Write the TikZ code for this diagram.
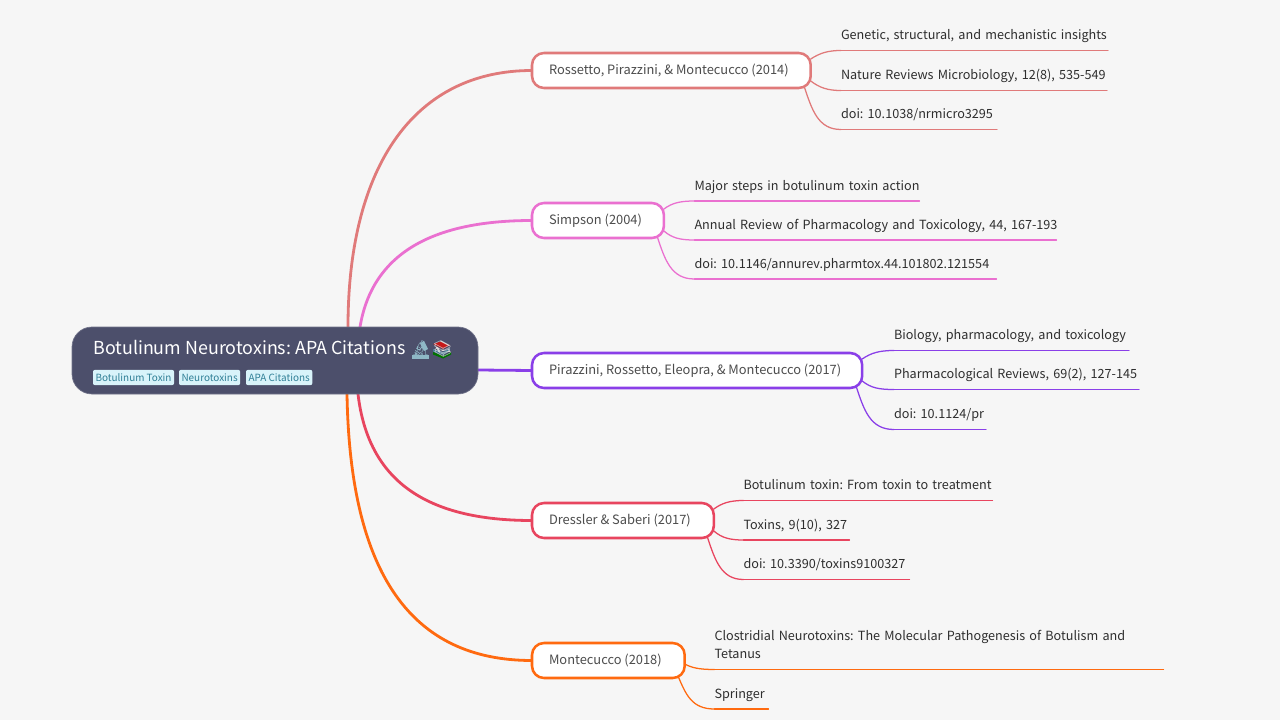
\documentclass[tikz,border=0pt]{standalone}
\usepackage{fontspec}
\setmainfont{Noto Sans CJK SC}
\newfontfamily\emojifont{Noto Emoji}
\usetikzlibrary{backgrounds}
\definecolor{cbg}{HTML}{F6F6F6}
\definecolor{croot}{HTML}{4C4F6B}
\definecolor{ctag}{HTML}{D8F3FA}
\definecolor{ctagt}{HTML}{2F7F96}
\definecolor{ca}{HTML}{E07A7A}
\definecolor{cb}{HTML}{EA70D0}
\definecolor{cc}{HTML}{8A3FE8}
\definecolor{cd}{HTML}{E8455F}
\definecolor{ce}{HTML}{FF6A10}
\definecolor{cscope}{HTML}{8FB8C6}
\newcommand{\fs}[2]{\fontsize{#1}{#2}\selectfont\frenchspacing}
\tikzset{
  x=0.75pt,y=-0.75pt,
  rootbox/.style={fill=croot,draw=croot!80!white,line width=0.5pt,outer sep=0pt,rounded corners=15pt,anchor=north west,minimum width=304.5pt,minimum height=50.25pt,inner sep=0pt},
  tagbox/.style={fill=ctag,text=ctagt,outer sep=0pt,rounded corners=1.5pt,anchor=west,inner xsep=1.9pt,inner ysep=0pt,minimum height=11.5pt,font=\fs{7.45}{9}},
  branch/.style={fill=white,draw=#1,line width=1.9pt,outer sep=0pt,rounded corners=9pt,anchor=west,inner xsep=12.75pt,inner ysep=0pt,minimum height=26.25pt,text=black!70,font=\fs{9.65}{12}},
  leaf/.style={anchor=south west,inner sep=0pt,outer sep=0pt,text=black!82,font=\fs{9.48}{14},align=left},
  mainline/.style={line width=2.1pt,line cap=round},
  subline/.style={line width=0.95pt,line cap=round},
}
\newcommand{\lnx}[1]{\makebox[0pt][l]{\strut #1}}
\newcommand{\leafn}[6]{% name, x, y, width(px), colour, text
  \node[leaf,text width=#4*0.75pt] (#1) at (#2,#3) {#6\par\vspace{3.8pt}};
  \draw[subline,#5] (#1.south west) -- (#1.south east);
}
\begin{document}
\begin{tikzpicture}
\useasboundingbox (0,0) rectangle (1280,720);
% root
\node[rootbox] (root) at (72,327) {};
\node[anchor=west,inner sep=0pt,text=white,font=\fs{13.4}{16}] (title) at (93,347.5) {Botulinum Neurotoxins: APA Citations};
% emoji colour under-painting
\fill[red!75!black!90] (433,344) -- (441,341.5) -- (450,345) -- (443,349) -- cycle;
\fill[cyan!55!black] (433,349) -- (443,352) -- (450,348) -- (450,351) -- (443,355) -- (433,351.5) -- cycle;
\fill[green!45!black] (433,352) -- (443,356) -- (451,352) -- (451,354.5) -- (443,358.5) -- (433,354.5) -- cycle;
\fill[cscope] (420,343.5) -- (424,341) -- (428,349) -- (424,351) -- cycle;
\fill[cscope] (412,355) rectangle (429,359);
\node[anchor=west,inner sep=0pt,text=cscope,font=\emojifont\fs{12}{14}] (emoa) at (410,349.5) {🔬};
\node[anchor=west,inner sep=0pt,text=white!85!black,font=\emojifont\fs{12}{14}] (emob) at (432,349.5) {📚};
\node[tagbox] (t1) at (93,377.5) {Botulinum Toxin};
\node[tagbox] (t2) at (179,377.5) {Neurotoxins};
\node[tagbox] (t3) at (246,377.5) {APA Citations};
% branches
\node[branch=ca] (b1) at (532,70.5) {Rossetto, Pirazzini, \& Montecucco (2014)\kern3.75pt};
\node[branch=cb] (b2) at (532,220.5) {Simpson (2004)\kern3.75pt};
\node[branch=cc] (b3) at (532,370.5) {Pirazzini, Rossetto, Eleopra, \& Montecucco (2017)\kern3pt};
\node[branch=cd] (b4) at (532,520.5) {Dressler \& Saberi (2017)\kern4.5pt};
\node[branch=ce] (b5) at (532,660.5) {Montecucco (2018)\kern4.5pt};
% leaves
\leafn{a1}{841}{50.5}{267}{ca}{\lnx{Genetic, structural, and mechanistic insights}}
\leafn{a2}{841}{90.5}{266}{ca}{\lnx{Nature Reviews Microbiology, 12(8), 535-549}}
\leafn{a3}{841}{129.5}{156}{ca}{\lnx{doi: 10.1038/nrmicro3295}}
\leafn{c1}{694.5}{201}{225}{cb}{\lnx{Major steps in botulinum toxin action}}
\leafn{c2}{694.5}{240}{362}{cb}{\lnx{Annual Review of Pharmacology and Toxicology, 44, 167-193}}
\leafn{c3}{694.5}{279}{302}{cb}{\lnx{doi: 10.1146/annurev.pharmtox.44.101802.121554}}
\leafn{d1}{894}{350.5}{235}{cc}{\lnx{Biology, pharmacology, and toxicology}}
\leafn{d2}{894}{389.5}{245}{cc}{\lnx{Pharmacological Reviews, 69(2), 127-145}}
\leafn{d3}{894}{429.5}{92}{cc}{\lnx{doi: 10.1124/pr}}
\leafn{e1}{743.5}{500.5}{249}{cd}{\lnx{Botulinum toxin: From toxin to treatment}}
\leafn{e2}{743.5}{540}{106}{cd}{\lnx{Toxins, 9(10), 327}}
\leafn{e3}{743.5}{579.5}{166}{cd}{\lnx{doi: 10.3390/toxins9100327}}
\leafn{f1}{714.5}{669.5}{449}{ce}{\lnx{Clostridial Neurotoxins: The Molecular Pathogenesis of Botulism and}\\\lnx{Tetanus}}
\leafn{f2}{714.5}{709}{54}{ce}{\lnx{Springer}}
\begin{pgfonlayer}{background}
\fill[cbg] (0,0) rectangle (1280,720);
\coordinate (ra) at (348,327);
\coordinate (rb) at (360,327);
\coordinate (rc) at (478,370);
\coordinate (rd) at (358,394);
\coordinate (re) at (347,394);
\draw[mainline,ca] (ra) .. controls (348,165) and (415,70.5) .. (b1.west);
\draw[mainline,cb] (rb) .. controls (372,255) and (430,220.5) .. (b2.west);
\draw[mainline,cc] (rc) -- (b3.west);
\draw[mainline,cd] (rd) .. controls (368,480) and (425,520.5) .. (b4.west);
\draw[mainline,ce] (re) .. controls (350,575) and (412,660.5) .. (b5.west);
% sub connectors
\draw[subline,ca] (b1.east |- 0,59) .. controls (820,53) and (828,50.5) .. (a1.south west);
\draw[subline,ca] (b1.east |- 0,81) .. controls (820,88) and (828,90.5) .. (a2.south west);
\draw[subline,ca] (804,86) .. controls (812,110) and (818,129.5) .. (a3.south west);
\draw[subline,cb] (b2.east |- 0,209) .. controls (672,203) and (680,201) .. (c1.south west);
\draw[subline,cb] (b2.east |- 0,231) .. controls (672,238) and (680,240) .. (c2.south west);
\draw[subline,cb] (657,236) .. controls (665,260) and (671,279) .. (c3.south west);
\draw[subline,cc] (b3.east |- 0,359) .. controls (871,353) and (879,350.5) .. (d1.south west);
\draw[subline,cc] (b3.east |- 0,381) .. controls (871,388) and (879,389.5) .. (d2.south west);
\draw[subline,cc] (856,386) .. controls (864,410) and (870,429.5) .. (d3.south west);
\draw[subline,cd] (b4.east |- 0,509) .. controls (722,503) and (730,500.5) .. (e1.south west);
\draw[subline,cd] (b4.east |- 0,531) .. controls (722,538) and (730,540) .. (e2.south west);
\draw[subline,cd] (707,536) .. controls (715,560) and (721,579.5) .. (e3.south west);
\draw[subline,ce] (b5.east |- 0,664) .. controls (692,668) and (700,669.5) .. (f1.south west);
\draw[subline,ce] (678,676) .. controls (686,695) and (692,709) .. (f2.south west);
\end{pgfonlayer}
\end{tikzpicture}
\end{document}
